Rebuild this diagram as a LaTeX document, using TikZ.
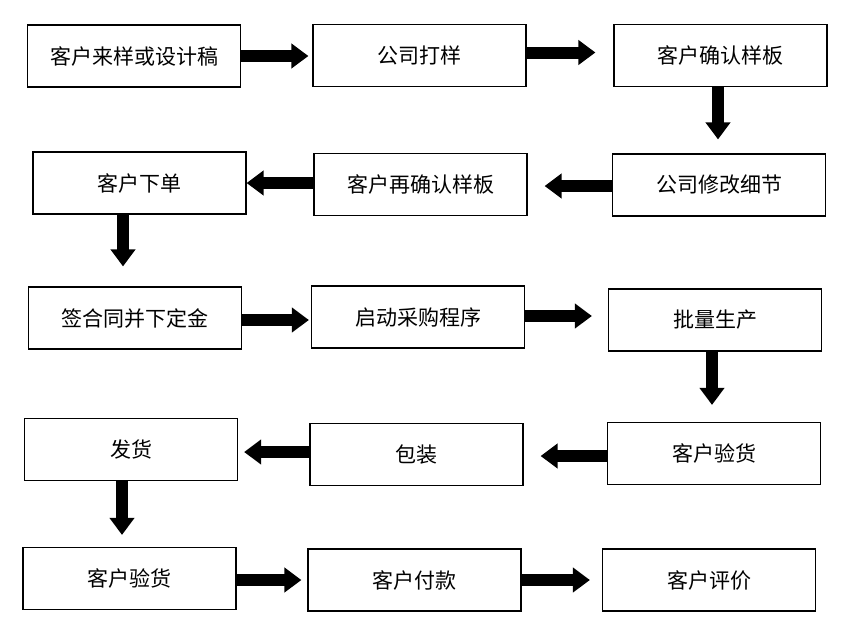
\documentclass[tikz,border=0pt]{standalone}
\usepackage{fontspec}
\newfontfamily\cjk{Noto Sans CJK SC}
\usetikzlibrary{arrows.meta}
\tikzset{
	stepbox/.style={rectangle, draw, line width=1.2pt, minimum width=213pt, minimum height=62pt, align=center, font=\cjk\fontsize{21}{24}\selectfont},
	blk/.style={line width=12pt, -{Triangle[length=17pt, width=24pt]}}
}
\begin{document}
\begin{tikzpicture}[x=1pt, y=-1pt]
	\useasboundingbox (0,0) rectangle (859,641);
	% row 1
	\node[stepbox] (sample)  at (134,56)    {客户来样或设计稿};
	\node[stepbox] (proof)   at (419.5,55.5) {公司打样};
	\node[stepbox] (confirm) at (720.5,55.5) {客户确认样板};
	% row 2
	\node[stepbox] (order)    at (139.5,183) {客户下单};
	\node[stepbox] (reconfirm) at (420.5,184.5) {客户再确认样板};
	\node[stepbox] (modify)   at (719,185)   {公司修改细节};
	% row 3
	\node[stepbox] (contract) at (135,318)   {签合同并下定金};
	\node[stepbox] (purchase) at (418,317)   {启动采购程序};
	\node[stepbox] (produce)  at (715,320)   {批量生产};
	% row 4
	\node[stepbox] (ship)     at (131,449.5) {发货};
	\node[stepbox] (pack)     at (416.5,454.5) {包装};
	\node[stepbox] (inspect)  at (714,453.5) {客户验货};
	% row 5
	\node[stepbox] (check)    at (129.5,578.5) {客户验货};
	\node[stepbox] (pay)      at (414.5,580) {客户付款};
	\node[stepbox] (review)   at (709,580)   {客户评价};

	\draw[blk, shorten >=4pt]  (sample.east) -- (sample.east -| proof.west);
	\draw[blk, shorten >=18pt] ([yshift=3pt]proof.east) -- ([yshift=3pt]proof.east -| confirm.west);
	\draw[blk, shorten >=14pt] ([xshift=-2.5pt]confirm.south) -- ([xshift=-2.5pt]confirm.south |- modify.north);
	\draw[blk, shorten >=17pt] ([yshift=-1pt]modify.west) -- ([yshift=-1pt]modify.west -| reconfirm.east);
	\draw[blk]                 ([yshift=1.5pt]reconfirm.west) -- ([yshift=1.5pt]reconfirm.west -| order.east);
	\draw[blk, shorten >=20pt] ([xshift=-16.5pt]order.south) -- ([xshift=-16.5pt]order.south |- contract.north);
	\draw[blk, shorten >=2pt]  ([yshift=-2pt]contract.east) -- ([yshift=-2pt]contract.east -| purchase.west);
	\draw[blk, shorten >=16pt] ([yshift=1pt]purchase.east) -- ([yshift=1pt]purchase.east -| produce.west);
	\draw[blk, shorten >=17pt] ([xshift=-3pt]produce.south) -- ([xshift=-3pt]produce.south |- inspect.north);
	\draw[blk, shorten >=17pt] ([yshift=-2.5pt]inspect.west) -- ([yshift=-2.5pt]inspect.west -| pack.east);
	\draw[blk, shorten >=6pt]  ([yshift=2.5pt]pack.west) -- ([yshift=2.5pt]pack.west -| ship.east);
	\draw[blk, shorten >=12pt] ([xshift=-9pt]ship.south) -- ([xshift=-9pt]ship.south |- check.north);
	\draw[blk, shorten >=6pt]  ([yshift=-1.5pt]check.east) -- ([yshift=-1.5pt]check.east -| pay.west);
	\draw[blk, shorten >=12pt] (pay.east) -- (pay.east -| review.west);
\end{tikzpicture}
\end{document}
